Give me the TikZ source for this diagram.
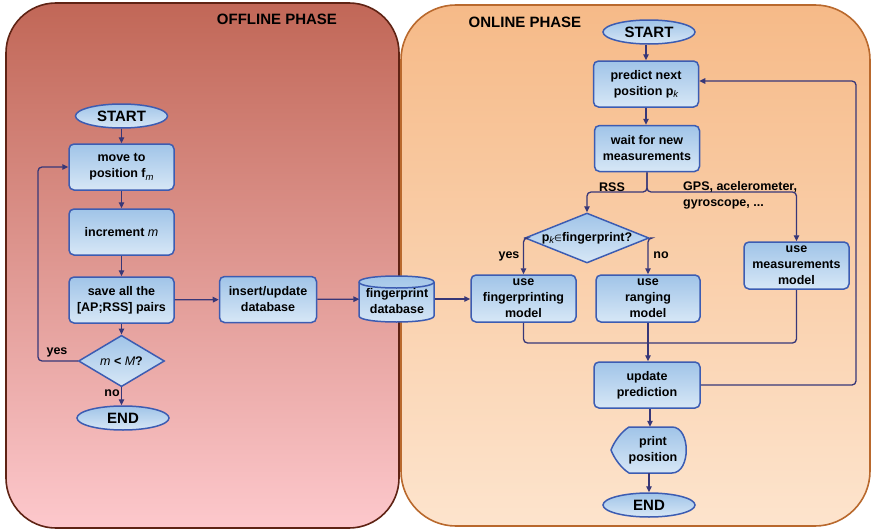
\documentclass[tikz,border=0pt]{standalone}
\usepackage{fontspec}
\setmainfont{Liberation Sans}
\newfontfamily\djv{DejaVu Sans}
\usetikzlibrary{shapes.geometric,arrows.meta}
\definecolor{offTop}{RGB}{193,103,87}
\definecolor{offMid}{RGB}{228,146,139}
\definecolor{offBot}{RGB}{253,200,204}
\definecolor{offBorder}{RGB}{95,35,20}
\definecolor{onTop}{RGB}{246,186,136}
\definecolor{onMid}{RGB}{251,210,172}
\definecolor{onBot}{RGB}{253,228,205}
\definecolor{onBorder}{RGB}{185,105,45}
\definecolor{nTop}{RGB}{160,196,232}
\definecolor{nBot}{RGB}{215,231,246}
\definecolor{nBorder}{RGB}{60,92,178}
\definecolor{lineCol}{RGB}{55,55,120}
\newcommand\boxfont{\fontsize{12.5}{16}\selectfont\bfseries}
\newcommand\termfont{\fontsize{15}{16}\selectfont\bfseries}
\newcommand\subit[1]{\raisebox{-0.4ex}{\fontsize{9.5}{10}\selectfont\mdseries\itshape #1}}
\newcommand\itm[1]{{\mdseries\itshape #1}}
\tikzset{
  nshade/.style={draw=nBorder, line width=1.5pt, top color=nTop, bottom color=nBot},
  stepbox/.style={nshade, rounded corners=5pt, minimum width=105pt, minimum height=46pt,
    align=center, inner sep=1pt, font=\boxfont},
  term/.style={nshade, ellipse, minimum width=92pt, minimum height=24pt, inner sep=0pt, font=\termfont},
  decision/.style={nshade, diamond, inner sep=0pt, font=\boxfont},
  plain/.style={inner sep=0pt, font=\boxfont, align=center},
  lin/.style={draw=lineCol, line width=1.3pt, rounded corners=4pt},
  arr/.style={lin, -{Triangle[length=6pt,width=5.5pt]}},
  title/.style={font=\fontsize{15}{16}\selectfont\bfseries, inner sep=0pt}
}
\begin{document}
\begin{tikzpicture}[x=1pt,y=-1pt]
\useasboundingbox (0,0) rectangle (871,530);
% panels
\path[draw=offBorder, line width=1.6pt, rounded corners=50pt, top color=offTop, middle color=offMid, bottom color=offBot]
  (6,3) rectangle (399,528);
\path[draw=onBorder, line width=1.6pt, rounded corners=55pt, top color=onTop, middle color=onMid, bottom color=onBot]
  (401,5) rectangle (870,526);
\node[title] (tOff) at (277,19) {OFFLINE PHASE};
\node[title] (tOn) at (525,22) {ONLINE PHASE};

% offline nodes
\node[term] (sOff) at (121.5,116) {START};
\node[stepbox] (move) at (121.5,167) {move to\\position f\subit{m}};
\node[stepbox] (inc) at (121.5,232) {increment \itm{m}};
\node[stepbox] (save) at (121.5,300) {save all the\\{[}AP;RSS{]} pairs};
\node[decision, minimum width=86pt, minimum height=46pt] (dOff) at (121.5,361) {\itm{m} < \itm{M}?};
\node[term] (eOff) at (123,418) {END};
\node[stepbox, minimum width=97pt] (ins) at (268,299.5) {insert/update\\database};
% cylinder
\node[plain, minimum width=75pt, minimum height=46pt] (db) at (397,299) {};
\path[nshade] (359,282) -- (359,316) .. controls (359,324) and (434,324) .. (434,316)
  -- (434,282) .. controls (434,274) and (359,274) .. (359,282) -- cycle;
\draw[draw=nBorder, line width=1.5pt] (359,282) .. controls (359,290) and (434,290) .. (434,282);
\node[plain] (dbt) at (397,301) {fingerprint\\database};

% offline connectors
\draw[arr] (sOff) -- (move);
\draw[arr] (move) -- (inc);
\draw[arr] (inc) -- (save);
\draw[arr] (save) -- (dOff);
\draw[arr] (dOff) -- (eOff.north -| dOff.south);
\draw[arr] (dOff.west) -- (38,361) |- (move.west);
\draw[arr] (save) -- (ins);
\draw[arr] (ins) -- (db);
\node[plain] (lyes) at (57,352) {yes};
\node[plain] (lno) at (112,393) {no};

% online nodes
\node[term] (sOn) at (649,32) {START};
\node[stepbox] (pred) at (646,84) {predict next\\position p\subit{k}};
\node[stepbox] (wait) at (647,148.5) {wait for new\\measurements};
\node[decision, minimum width=124pt, minimum height=50pt, aspect=2.4] (dOn) at (587,238)
  {p\subit{k}{\djv\mdseries\fontsize{9}{10}\selectfont ∈}fingerprint?};
\node[stepbox, minimum height=47pt] (fp) at (523.5,298.5) {use\\fingerprinting\\model};
\node[stepbox, minimum height=47pt, minimum width=104pt] (rang) at (648,298.5) {use\\ranging\\model};
\node[stepbox, minimum height=47pt] (meas) at (796.5,265.5) {use\\measurements\\model};
\node[stepbox, minimum width=106pt] (upd) at (647,385) {update\\prediction};
\node[plain, minimum width=77pt, minimum height=46pt] (print) at (650,450) {};
\path[nshade] (629,427) -- (672,427) .. controls (691,427) and (691,473) .. (672,473)
  -- (629,473) .. controls (621,468) and (614,458) .. (611,450)
  .. controls (614,442) and (621,432) .. (629,427) -- cycle;
\node[plain] (printt) at (653,450) {print\\position};
\node[term] (eOn) at (649,505) {END};
\coordinate (split) at (647,192);
\coordinate (mj) at (648,343);

% online connectors
\draw[arr] (sOn.south -| pred.north) -- (pred);
\draw[arr] (pred) -- (wait.north -| pred.south);
\draw[arr] (wait.south) -- (split) -| (dOn.north);
\draw[arr] (wait.south) -- (split) -| (meas.north);
\draw[arr] (dOn.west) -| (fp.north);
\draw[arr] (dOn.east) -| (rang.north);
\draw[arr] (rang.south) -- (upd.north -| rang.south);
\draw[lin] (fp.south) |- (mj);
\draw[lin] (meas.south) |- (mj);
\draw[arr] (upd.east) -- (856,385) |- ([yshift=3pt]pred.east);
\draw[arr] (upd.south -| print.north) -- (print.north);
\draw[arr] (print.south -| eOn.north) -- (eOn.north);
\draw[arr] (db) -- (fp.west |- db.east);
\node[plain] (lrss) at (612,187) {RSS};
\node[plain, anchor=west, align=left] (lgps) at (683,195) {GPS, acelerometer,\\gyroscope, ...};
\node[plain] (lyes2) at (509,256) {yes};
\node[plain] (lno2) at (661,255) {no};
\end{tikzpicture}
\end{document}
